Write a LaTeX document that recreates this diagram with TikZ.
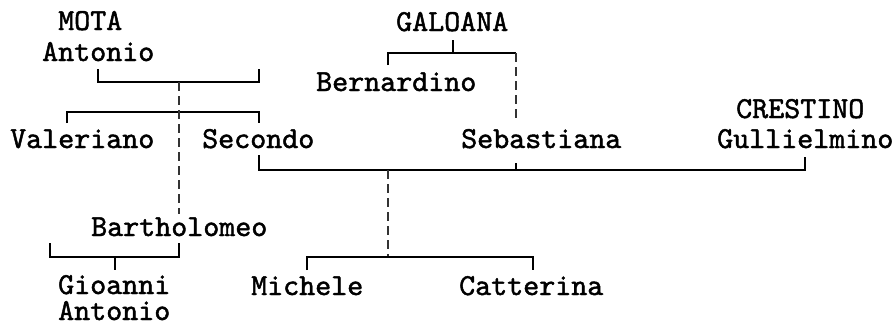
\documentclass[tikz,border=0pt]{standalone}
\usepackage{fontspec}
\newfontfamily\chartfont{lmmono10-regular}[Extension=.otf, FakeBold=1.5]
\usepackage{tikz}
\begin{document}
\begin{tikzpicture}[x=1pt, y=-1pt]
\tikzset{
  person/.style={anchor=base west, inner sep=0pt, font=\fontsize{30.5}{26}\selectfont\chartfont},
  tie/.style={draw=black, line width=2pt},
  doubt/.style={draw=black!80, line width=2pt, dash pattern=on 9pt off 5pt},
}
\useasboundingbox (0,0) rectangle (896,325);
% people
\node[person] at (58,30) (mota) {MOTA};
\node[person] at (42,61) (antonio) {Antonio};
\node[person] at (10,148) (valeriano) {Valeriano};
\node[person] at (202,148) (secondo) {Secondo};
\node[person] at (91,236) (bartholomeo) {Bartholomeo};
\node[person, align=left] at (58,320) (gioanni) {Gioanni\\Antonio};
\node[person] at (396,31) (galoana) {GALOANA};
\node[person] at (316,91) (bernardino) {Bernardino};
\node[person] at (461,148) (sebastiana) {Sebastiana};
\node[person] at (736,118) (crestino) {CRESTINO};
\node[person] at (717,148) (gullielmino) {Gullielmino};
\node[person] at (251,295) (michele) {Michele};
\node[person] at (459,295) (catterina) {Catterina};
% bracket points
\coordinate (motaL) at (98,69);
\coordinate (motaLb) at (98,82);
\coordinate (motaR) at (259,69);
\coordinate (motaRb) at (259,82);
\coordinate (motaM) at (179,82);
\coordinate (kidsL) at (67,123);
\coordinate (kidsLb) at (67,112);
\coordinate (kidsR) at (259,123);
\coordinate (kidsRb) at (259,112);
\coordinate (bartT) at (179,214);
\coordinate (bartL) at (50,243);
\coordinate (bartLb) at (50,257);
\coordinate (bartR) at (179,243);
\coordinate (bartRb) at (179,257);
\coordinate (bartM) at (115,257);
\coordinate (gioT) at (115,270);
\coordinate (galS) at (453,40);
\coordinate (galM) at (453,53);
\coordinate (galL) at (388,65);
\coordinate (galLb) at (388,53);
\coordinate (galRb) at (516,53);
\coordinate (sebT) at (516,122);
\coordinate (secB) at (259,155);
\coordinate (secBb) at (259,170);
\coordinate (sebB) at (516,163);
\coordinate (sebBb) at (516,170);
\coordinate (gulB) at (805,157);
\coordinate (gulBb) at (805,170);
\coordinate (marM) at (388,170);
\coordinate (famM) at (388,257);
\coordinate (micL) at (307,270);
\coordinate (micLb) at (307,257);
\coordinate (catR) at (533,270);
\coordinate (catRb) at (533,257);
% lines
\draw[tie] (motaL) -- (motaLb) -- (motaRb) -- (motaR);
\draw[tie] (kidsL) -- (kidsLb) -- (kidsRb) -- (kidsR);
\draw[doubt] (motaM) -- (bartT);
\draw[tie] (bartL) -- (bartLb) -- (bartRb) -- (bartR);
\draw[tie] (bartM) -- (gioT);
\draw[tie] (galS) -- (galM);
\draw[tie] (galL) -- (galLb) -- (galRb);
\draw[doubt] (galRb) -- (sebT);
\draw[tie] (secB) -- (secBb) -- (gulBb) -- (gulB);
\draw[tie] (sebB) -- (sebBb);
\draw[doubt] (marM) -- (famM);
\draw[tie] (micL) -- (micLb) -- (catRb) -- (catR);
\end{tikzpicture}
\end{document}
